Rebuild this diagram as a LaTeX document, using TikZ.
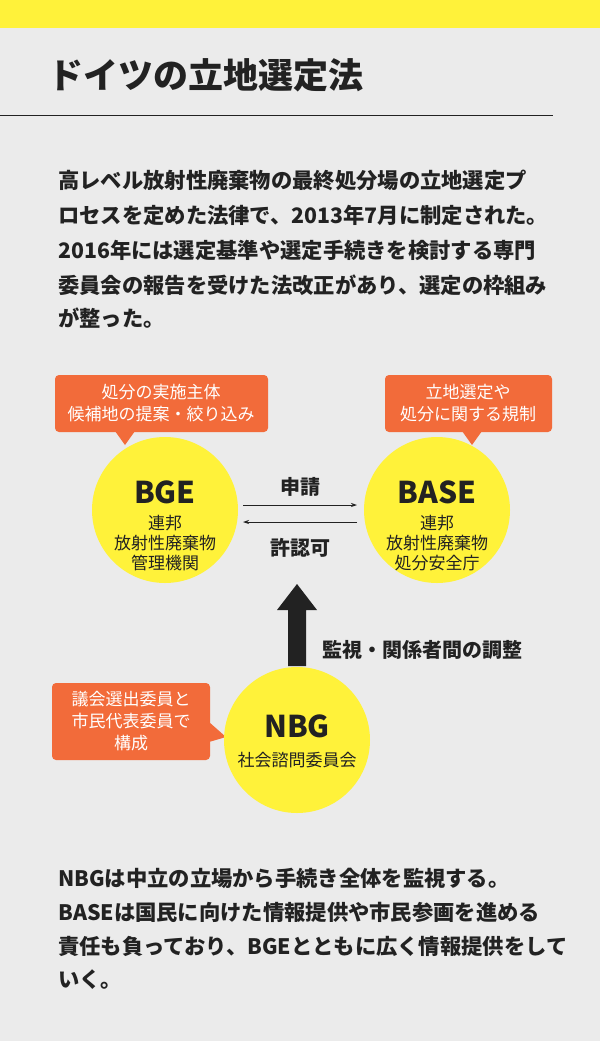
\documentclass[tikz,border=0pt]{standalone}
\usepackage{fontspec}
\setmainfont{Noto Sans CJK JP}
\usetikzlibrary{arrows.meta}
\definecolor{bg}{HTML}{EBEBEB}
\definecolor{ylw}{HTML}{FFF23A}
\definecolor{org}{HTML}{F26B3A}
\definecolor{ink}{HTML}{222222}
\begin{document}
\begin{tikzpicture}[x=1pt,y=-1pt,
  txt/.style={anchor=west,inner sep=0,font=\fontsize{21.3}{24}\selectfont\bfseries,text=ink},
  circ/.style={circle,fill=ylw,minimum size=146pt,inner sep=0,align=center,text=ink},
  call/.style={fill=org,rounded corners=4pt},
  ctext/.style={text=white,align=center,font=\fontsize{17}{22}\selectfont},
  big/.style={font=\fontsize{30}{32}\selectfont\bfseries,text=ink},
  small/.style={font=\fontsize{17}{20}\selectfont,align=center,text=ink},
  thin/.style={draw=ink,line width=0.8pt,-{Stealth[length=6pt,width=4pt]}}]
\useasboundingbox (0,0) rectangle (600,1041);
\fill[bg] (0,0) rectangle (600,1041);
\fill[ylw] (0,0) rectangle (600,28);
\node[txt,font=\fontsize{35}{38}\selectfont\bfseries] (title) at (48,75) {ドイツの立地選定法};
\coordinate (l1) at (0,115); \coordinate (l2) at (553,115);
\draw[ink,line width=1pt] (l1) -- (l2);
\node[txt] (p1) at (58,180) {高レベル放射性廃棄物の最終処分場の立地選定プ};
\node[txt] (p2) at (58,215) {ロセスを定めた法律で、2013年7月に制定された。};
\node[txt] (p3) at (58,250) {2016年には選定基準や選定手続きを検討する専門};
\node[txt] (p4) at (58,285) {委員会の報告を受けた法改正があり、選定の枠組み};
\node[txt] (p5) at (58,318) {が整った。};
% callouts
\fill[call] (55,375) rectangle (268,432);
\fill[org] (115,431) -- (135,431) -- (125,445) -- cycle;
\node[ctext] (c1) at (161,403) {処分の実施主体\\候補地の提案・絞り込み};
\fill[call] (385,375) rectangle (552,432);
\fill[org] (462,431) -- (482,431) -- (472,445) -- cycle;
\node[ctext] (c2) at (468,403) {立地選定や\\処分に関する規制};
\fill[call] (52,683) rectangle (210,760);
\fill[org] (209,722) -- (209,742) -- (226,737) -- cycle;
\node[ctext] (c3) at (131,721) {議会選出委員と\\市民代表委員で\\構成};
% circles
\node[circ] (bge) at (165,510) {};
\node[big] (bget) at (165,492) {BGE};
\node[small] (bges) at (165,543) {連邦\\放射性廃棄物\\管理機関};
\node[circ] (base) at (437,510) {};
\node[big] (baset) at (437,492) {BASE};
\node[small] (bases) at (437,543) {連邦\\放射性廃棄物\\処分安全庁};
\node[circ] (nbg) at (297,740) {};
\node[big] (nbgt) at (297,726) {NBG};
\node[small] (nbgs) at (297,760) {社会諮問委員会};
% arrows
\coordinate (a1) at (243,505); \coordinate (a2) at (357,505);
\coordinate (b1) at (357,522); \coordinate (b2) at (243,522);
\draw[thin] (a1) -- (a2);
\draw[thin] (b1) -- (b2);
\node[font=\fontsize{20}{22}\selectfont\bfseries,text=ink] (shin) at (300,487) {申請};
\node[font=\fontsize{20}{22}\selectfont\bfseries,text=ink] (kyo) at (300,548) {許認可};
\fill[ink] (288,666) -- (306,666) -- (306,610) -- (317,610) -- (297,584) -- (277,610) -- (288,610) -- cycle;
\node[txt,font=\fontsize{20}{22}\selectfont\bfseries] (kan) at (322,650) {監視・関係者間の調整};
% bottom
\node[txt] (q1) at (58,878) {NBGは中立の立場から手続き全体を監視する。};
\node[txt] (q2) at (58,912) {BASEは国民に向けた情報提供や市民参画を進める};
\node[txt] (q3) at (58,946) {責任も負っており、BGEとともに広く情報提供をして};
\node[txt] (q4) at (58,980) {いく。};
\end{tikzpicture}
\end{document}
